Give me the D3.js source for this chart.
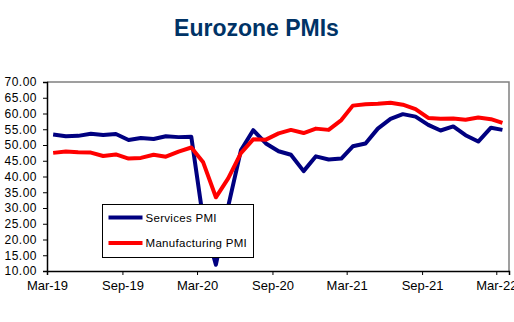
<!DOCTYPE html>
<html>
<head>
<meta charset="utf-8">
<script src="https://cdnjs.cloudflare.com/ajax/libs/d3/7.8.5/d3.min.js"></script>
<style>
  body { margin: 0; background: #fff; }
  svg { display: block; font-family: Arial, "Liberation Sans", sans-serif; }
</style>
</head>
<body>
<svg id="chart" width="514" height="322"></svg>
<script>
// monthly readings, Mar-19 .. Mar-22
const months = d3.utcMonths(new Date(Date.UTC(2019, 2, 1)), new Date(Date.UTC(2022, 3, 1)));
const services = [
  53.3, 52.8, 52.9, 53.6, 53.2, 53.5, 51.6, 52.2, 51.9, 52.8, 52.5, 52.6,
  26.4, 12.0, 30.5, 48.3, 54.7, 50.5, 48.0, 46.9, 41.7, 46.4, 45.4, 45.7,
  49.6, 50.5, 55.2, 58.3, 59.8, 59.0, 56.4, 54.6, 55.9, 53.1, 51.1, 55.5, 54.8
];
const manufacturing = [
  47.5, 47.9, 47.7, 47.6, 46.5, 47.0, 45.7, 45.9, 46.9, 46.3, 47.9, 49.2,
  44.5, 33.4, 39.4, 47.4, 51.8, 51.7, 53.7, 54.8, 53.8, 55.2, 54.8, 57.9,
  62.5, 62.9, 63.1, 63.4, 62.8, 61.4, 58.6, 58.3, 58.4, 58.0, 58.7, 58.2, 57.0
];
const seriesNames = ['Services PMI', 'Manufacturing PMI'];
const yTicks = [10, 15, 20, 25, 30, 35, 40, 45, 50, 55, 60, 65, 70];

const colors = ['#000080', '#ff0000'];

const svg = d3.select('#chart');
const pLeft = 47, pRight = 509, pTop = 82, pBottom = 271;

// title
svg.append('text')
  .attr('x', 256.5).attr('y', 36)
  .attr('text-anchor', 'middle')
  .attr('font-size', 23).attr('font-weight', 'bold')
  .attr('fill', '#003366')
  .text('Eurozone PMIs');

const x = d3.scaleUtc()
  .domain([new Date(Date.UTC(2019, 2, 1)), new Date(Date.UTC(2022, 3, 1))])
  .range([pLeft, pRight]);
const y = d3.scaleLinear().domain([10, 70]).range([pBottom, pTop]);

// plot frame (top / right in grey)
svg.append('path')
  .attr('d', `M${pLeft},${pTop}H${pRight}V${pBottom}`)
  .attr('fill', 'none').attr('stroke', '#808080').attr('stroke-width', 1.5);

// y axis
const yAxis = svg.append('g')
  .attr('transform', `translate(${pLeft},0)`)
  .call(d3.axisLeft(y).tickValues(yTicks).tickSize(4).tickPadding(6).tickFormat(d3.format('.2f')));
yAxis.select('.domain').attr('stroke', '#000').attr('stroke-width', 1.5);
yAxis.selectAll('text').attr('font-size', 12).attr('fill', '#000')
  .attr('font-family', 'Arial, "Liberation Sans", sans-serif')
  .style('letter-spacing', '0.5px');

// x axis: every six months from Mar-19
const xTickDates = d3.utcMonth.range(new Date(Date.UTC(2019, 2, 1)), new Date(Date.UTC(2022, 3, 2)), 6);
const xAxis = svg.append('g')
  .attr('transform', `translate(0,${pBottom})`)
  .call(d3.axisBottom(x).tickValues(xTickDates).tickSize(4).tickPadding(6).tickFormat(d3.utcFormat('%b-%y')));
xAxis.select('.domain').attr('stroke', '#000').attr('stroke-width', 1.5);
xAxis.selectAll('text').attr('font-size', 13).attr('fill', '#000')
  .attr('font-family', 'Arial, "Liberation Sans", sans-serif');

// lines, each point mid-month
const mid = d => d3.utcDay.offset(d, 15);
[services, manufacturing].forEach((vals, i) => {
  const line = d3.line()
    .x((v, k) => x(mid(months[k])))
    .y(v => y(v));
  svg.append('path')
    .datum(vals)
    .attr('d', line)
    .attr('fill', 'none')
    .attr('stroke', colors[i])
    .attr('stroke-width', 4)
    .attr('stroke-linejoin', 'round');
});

// legend
const lg = svg.append('g').attr('transform', 'translate(102.5,204.5)');
lg.append('rect').attr('width', 151).attr('height', 53)
  .attr('fill', '#fff').attr('stroke', '#000').attr('stroke-width', 1);
seriesNames.forEach((name, i) => {
  const yy = 13 + i * 25.5;
  lg.append('line').attr('x1', 6).attr('x2', 40).attr('y1', yy).attr('y2', yy)
    .attr('stroke', colors[i]).attr('stroke-width', 4);
  lg.append('text').attr('x', 43).attr('y', yy + 4)
    .attr('font-size', 11.5).attr('fill', '#000')
    .style('letter-spacing', '0.3px')
    .text(name);
});
</script>
</body>
</html>
